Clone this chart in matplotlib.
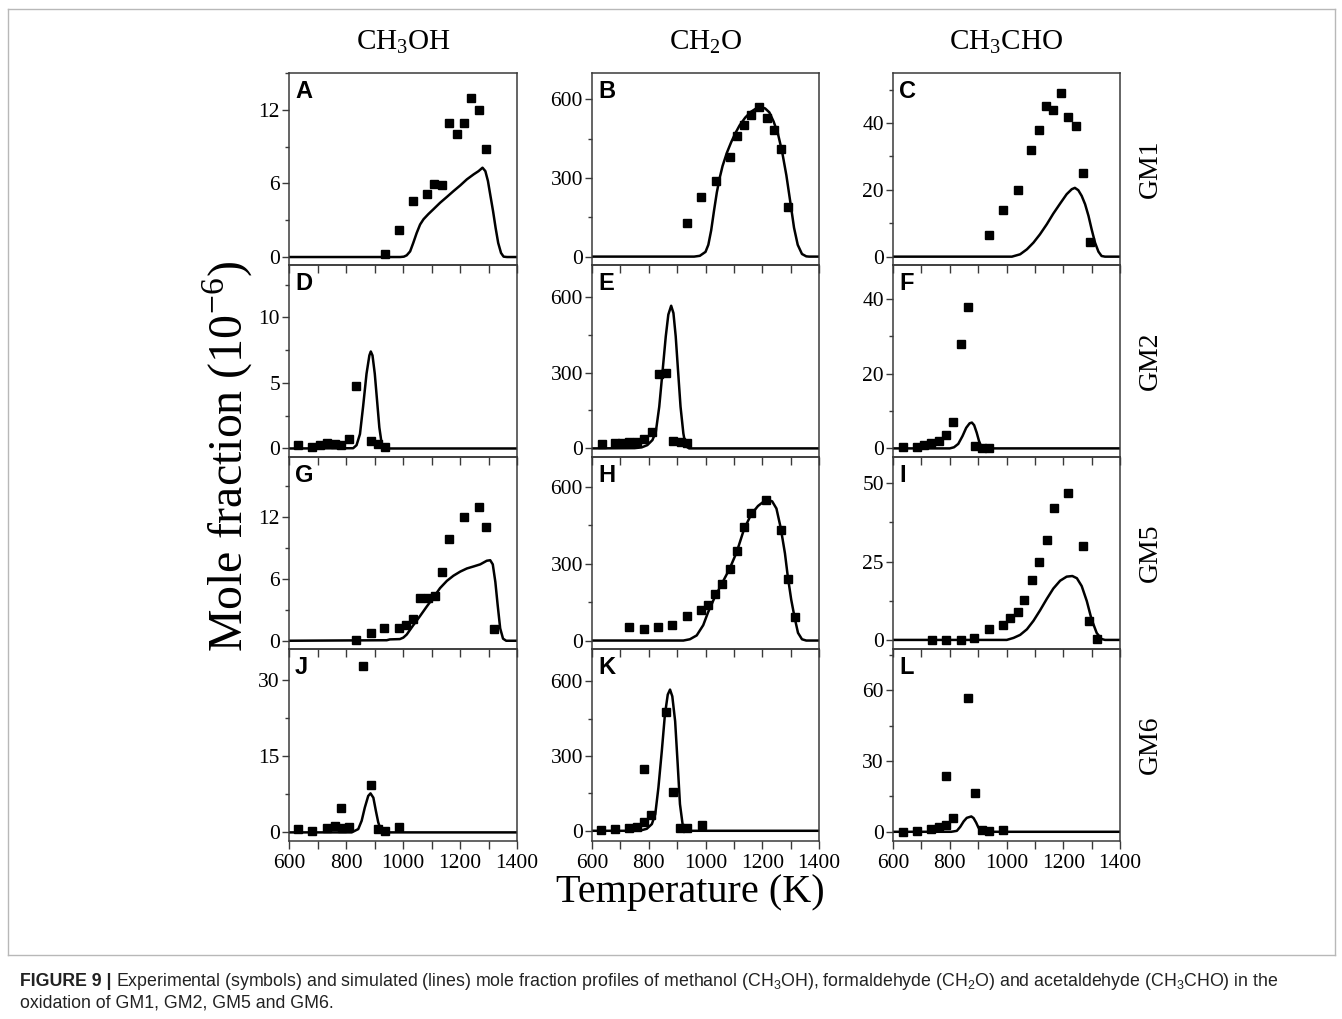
import matplotlib
matplotlib.use('Agg')
import matplotlib.pyplot as plt
from matplotlib.ticker import MultipleLocator, FixedLocator, NullFormatter
from matplotlib.lines import Line2D

plt.rcParams['font.family'] = ['Liberation Serif', 'DejaVu Serif']
plt.rcParams['mathtext.fontset'] = 'custom'
plt.rcParams['mathtext.rm'] = 'Liberation Serif'

# ---------------- data ----------------
col_titles = [r'CH$_\mathregular{3}$OH', r'CH$_\mathregular{2}$O', r'CH$_\mathregular{3}$CHO']
row_labels = ['GM1', 'GM2', 'GM5', 'GM6']
panel_letters = ['A', 'B', 'C', 'D', 'E', 'F', 'G', 'H', 'I', 'J', 'K', 'L']
x_ticks = [600, 800, 1000, 1200, 1400]

# GM1
a_exp_T = [937, 986, 1034, 1084, 1110, 1137, 1162, 1189, 1215, 1239, 1265, 1292]
a_exp_y = [0.27, 2.24, 4.55, 5.15, 5.97, 5.86, 10.96, 10.0, 10.96, 12.95, 11.97, 8.78]
a_sim_T = [600, 990, 1003, 1013, 1025, 1036, 1048, 1060, 1072, 1089, 1107, 1130, 1154, 1177, 1201,
           1224, 1248, 1265, 1279, 1289, 1298, 1306, 1316, 1325, 1334, 1344, 1353, 1365, 1400]
a_sim_y = [0, 0, 0.03, 0.14, 0.46, 1.15, 1.96, 2.65, 3.08, 3.5, 3.9, 4.42, 4.9, 5.37, 5.84,
           6.33, 6.74, 7.0, 7.28, 7.0, 6.2, 5.1, 3.74, 2.37, 1.15, 0.33, 0.03, 0, 0]

b_exp_T = [935, 985, 1036, 1085, 1111, 1135, 1161, 1188, 1215, 1240, 1265, 1289]
b_exp_y = [129, 228, 290, 380, 460, 503, 541, 571, 530, 481, 411, 191]
b_sim_T = [600, 960, 980, 1000, 1010, 1020, 1030, 1040, 1050, 1060, 1075, 1090, 1105, 1120, 1140,
           1160, 1180, 1195, 1210, 1225, 1240, 1255, 1270, 1285, 1300, 1312, 1325, 1340, 1355,
           1365, 1400]
b_sim_y = [0, 0, 3, 18, 45, 100, 175, 245, 300, 345, 395, 435, 470, 500, 530,
           552, 566, 570, 565, 550, 515, 470, 400, 310, 200, 110, 45, 10, 1,
           0, 0]

c_exp_T = [940, 988, 1039, 1088, 1115, 1140, 1165, 1191, 1218, 1244, 1271, 1294]
c_exp_y = [6.5, 13.9, 19.95, 31.9, 37.9, 45.0, 44.0, 49.0, 41.9, 39.0, 25.1, 4.5]
c_sim_T = [600, 1019, 1048, 1072, 1095, 1118, 1142, 1165, 1189, 1212, 1230, 1241, 1253, 1265,
           1277, 1289, 1300, 1312, 1324, 1335, 1347, 1400]
c_sim_y = [0, 0, 0.7, 2.2, 4.2, 6.7, 9.7, 12.9, 15.9, 18.7, 20.2, 20.6, 19.9, 18.2,
           15.7, 12.2, 8.2, 4.2, 1.5, 0.2, 0, 0]

# GM2
d_exp_T = [630, 682, 708, 734, 760, 784, 810, 835, 886, 911, 937]
d_exp_y = [0.3, 0.1, 0.23, 0.4, 0.33, 0.28, 0.71, 4.75, 0.56, 0.38, 0.13]
d_sim_T = [600, 825, 837, 849, 860, 872, 882, 887, 893, 901, 910, 917, 925, 933, 945, 1400]
d_sim_y = [0, 0.02, 0.25, 1.1, 3.2, 5.7, 7.1, 7.4, 7.1, 5.7, 3.4, 1.6, 0.4, 0.05, 0, 0]

e_exp_T = [635, 682, 706, 732, 757, 784, 811, 837, 862, 887, 912, 936]
e_exp_y = [17, 20, 21, 25, 26, 36, 63, 293, 297, 29, 26, 20]
e_sim_T = [600, 750, 775, 795, 813, 825, 837, 848, 860, 869, 879, 887, 895, 903, 912, 922, 930, 942, 1400]
e_sim_y = [0, 1, 4, 13, 33, 66, 165, 297, 443, 529, 564, 535, 443, 311, 165, 59, 9, 0, 0]

f_exp_T = [634, 684, 711, 735, 761, 787, 812, 838, 864, 889, 913, 939]
f_exp_y = [0.27, 0.44, 0.9, 1.4, 2.1, 3.6, 7.1, 28.0, 37.8, 0.6, 0.18, 0.18]
f_sim_T = [600, 800, 815, 830, 845, 858, 870, 878, 886, 895, 903, 911, 918, 1400]
f_sim_y = [0, 0, 0.3, 1.2, 3.3, 5.5, 6.7, 6.9, 6.2, 4.2, 2.0, 0.5, 0, 0]

# GM5
g_exp_T = [835, 886, 935, 986, 1009, 1035, 1061, 1086, 1111, 1136, 1162, 1213, 1265, 1291, 1318]
g_exp_y = [0.06, 0.71, 1.2, 1.2, 1.52, 2.1, 4.12, 4.18, 4.38, 6.65, 9.9, 11.97, 12.94, 11.0, 1.14]
g_sim_T = [600, 943, 954, 989, 1001, 1013, 1036, 1060, 1083, 1107, 1130, 1154, 1177, 1201, 1224,
           1248, 1271, 1294, 1306, 1315, 1324, 1332, 1341, 1351, 1362, 1400]
g_sim_y = [0, 0.05, 0.13, 0.16, 0.3, 0.6, 1.5, 2.4, 3.3, 4.2, 5.1, 5.8, 6.3, 6.7, 7.0,
           7.2, 7.4, 7.75, 7.8, 7.4, 5.7, 3.5, 1.2, 0.2, 0, 0]

h_exp_T = [732, 783, 833, 883, 934, 984, 1009, 1033, 1059, 1085, 1110, 1136, 1161, 1214, 1265, 1290, 1314]
h_exp_y = [54, 46, 51, 59, 96, 119, 140, 181, 220, 280, 351, 443, 499, 550, 431, 241, 92]
h_sim_T = [600, 922, 945, 969, 992, 1009, 1033, 1059, 1085, 1110, 1136, 1161, 1185, 1205, 1221,
           1235, 1250, 1265, 1280, 1290, 1302, 1314, 1326, 1340, 1355, 1400]
h_sim_y = [0, 0, 5, 20, 60, 110, 170, 225, 280, 345, 435, 492, 525, 542, 548,
           543, 515, 440, 340, 250, 160, 90, 30, 5, 0, 0]

i_exp_T = [737, 787, 838, 887, 939, 988, 1013, 1039, 1062, 1089, 1115, 1141, 1167, 1218, 1270, 1292, 1319]
i_exp_y = [0, 0, 0, 0.5, 3.4, 4.85, 7.0, 8.8, 12.8, 19.0, 25.0, 32.0, 42.0, 46.9, 30.0, 5.9, 0.2]
i_sim_T = [600, 1001, 1025, 1048, 1072, 1095, 1118, 1142, 1165, 1189, 1212, 1232, 1248, 1265,
           1283, 1300, 1318, 1335, 1347, 1400]
i_sim_y = [0, 0, 0.65, 1.6, 3.4, 6.1, 9.4, 13.1, 16.4, 18.9, 20.2, 20.4, 19.7, 17.2,
           12.4, 6.5, 2.2, 0.3, 0, 0]

# GM6
j_exp_T = [632, 682, 734, 760, 786, 781, 810, 860, 886, 911, 937, 987]
j_exp_y = [0.65, 0.33, 0.78, 1.17, 0.8, 4.9, 1.04, 32.9, 9.26, 0.65, 0.33, 1.04]
j_sim_T = [600, 820, 843, 855, 866, 878, 886, 896, 905, 913, 921, 931, 945, 1400]
j_sim_y = [0, 0, 0.65, 2.3, 4.9, 7.2, 7.7, 6.85, 4.2, 2.0, 0.65, 0.13, 0, 0]

k_exp_T = [632, 682, 732, 758, 783, 783, 808, 860, 885, 910, 935, 987]
k_exp_y = [4, 7, 12, 15, 36, 247, 63, 477, 156, 12, 11, 25]
k_sim_T = [600, 750, 770, 793, 811, 823, 834, 846, 857, 867, 875, 883, 893, 902, 910, 920, 929, 945, 1400]
k_sim_y = [0, 0, 1, 8, 27, 67, 173, 320, 467, 547, 567, 540, 440, 267, 107, 20, 3, 0, 0]

l_exp_T = [635, 684, 735, 761, 787, 787, 812, 864, 889, 913, 939, 988]
l_exp_y = [0, 0.3, 1.1, 2.0, 2.8, 23.7, 5.9, 56.5, 16.6, 0.56, 0.3, 0.56]
l_sim_T = [600, 805, 813, 825, 837, 849, 860, 876, 884, 893, 901, 910, 919, 1400]
l_sim_y = [0, 0, 0.15, 0.4, 2.1, 4.4, 5.9, 6.5, 5.8, 3.9, 1.8, 0.56, 0, 0]

y_limits = [(-0.65, 15), (-32, 700), (-2.5, 55),
            (-0.65, 14), (-34, 725), (-2.3, 49),
            (-0.8, 17.8), (-33, 716), (-2.9, 58.4),
            (-1.7, 36.2), (-41, 730), (-3.9, 77.4)]
y_major = [6, 300, 20, 5, 300, 20, 6, 300, 25, 15, 300, 30]

exp_sets = [(a_exp_T, a_exp_y), (b_exp_T, b_exp_y), (c_exp_T, c_exp_y),
            (d_exp_T, d_exp_y), (e_exp_T, e_exp_y), (f_exp_T, f_exp_y),
            (g_exp_T, g_exp_y), (h_exp_T, h_exp_y), (i_exp_T, i_exp_y),
            (j_exp_T, j_exp_y), (k_exp_T, k_exp_y), (l_exp_T, l_exp_y)]
sim_sets = [(a_sim_T, a_sim_y), (b_sim_T, b_sim_y), (c_sim_T, c_sim_y),
            (d_sim_T, d_sim_y), (e_sim_T, e_sim_y), (f_sim_T, f_sim_y),
            (g_sim_T, g_sim_y), (h_sim_T, h_sim_y), (i_sim_T, i_sim_y),
            (j_sim_T, j_sim_y), (k_sim_T, k_sim_y), (l_sim_T, l_sim_y)]

# ---------------- layout ----------------
W, H = 1342, 1019
fig = plt.figure(figsize=(W / 100, H / 100), dpi=100)

col_left = [289, 592, 893]
col_width = [228, 227, 227]
row_top = [73, 265, 457, 649]
row_h = 192
spine_col = '#3a3a3a'
tick_fs = 15.5

def fx(px):
    return px / W

def fy(py):
    return 1 - py / H

for idx in range(12):
    r, c = divmod(idx, 3)
    left = col_left[c]
    top = row_top[r]
    ax = fig.add_axes([fx(left), fy(top + row_h), col_width[c] / W, row_h / H])
    ax.patch.set_facecolor('none')
    T_sim, y_sim = sim_sets[idx]
    T_exp, y_exp = exp_sets[idx]
    ax.plot(T_sim, y_sim, color='black', lw=1.8, solid_joinstyle='round', zorder=2)
    ax.plot(T_exp, y_exp, ls='none', marker='s', ms=6.3, color='black', mec='black', zorder=3)
    ax.set_xlim(600, 1400)
    ax.set_ylim(*y_limits[idx])
    ax.xaxis.set_major_locator(FixedLocator(x_ticks))
    ax.xaxis.set_minor_locator(FixedLocator([700, 900, 1100, 1300]))
    ax.yaxis.set_major_locator(MultipleLocator(y_major[idx]))
    ax.yaxis.set_minor_locator(MultipleLocator(y_major[idx] / 2))
    ax.tick_params(axis='x', which='both', direction='out', length=6, width=1.0,
                   color=spine_col, labelsize=tick_fs, pad=3.5, top=False)
    ax.tick_params(axis='y', which='major', direction='out', length=5, width=1.0,
                   color=spine_col, labelsize=tick_fs, pad=1.5, right=False)
    ax.tick_params(axis='y', which='minor', direction='out', length=3, width=1.0,
                   color=spine_col, right=False)
    if r < 3:
        ax.xaxis.set_major_formatter(NullFormatter())
    for s in ax.spines.values():
        s.set_color(spine_col)
        s.set_linewidth(1.1)
    ax.text(6 / col_width[c], 1 - 7 / row_h, panel_letters[idx], transform=ax.transAxes,
            ha='left', va='top', fontsize=17, fontweight='bold',
            family=['Liberation Sans', 'DejaVu Sans'])

# column titles
for c in range(3):
    fig.text(fx(col_left[c] + col_width[c] / 2), fy(42), col_titles[c],
             ha='center', va='center', fontsize=21)

# row labels
for r in range(4):
    fig.text(fx(1150), fy(row_top[r] + row_h / 2), row_labels[r], rotation=90,
             ha='center', va='center', fontsize=20)

# axis labels
fig.text(fx(228), fy(457), r'Mole fraction (10$^{\mathregular{-6}}$)', rotation=90,
         ha='center', va='center', fontsize=34.5)
fig.text(fx(690), fy(902), 'Temperature (K)', ha='center', va='baseline', fontsize=29)

# frame around figure area
frame_col = '#b8b8b8'
fig.add_artist(Line2D([fx(8), fx(1335)], [fy(9), fy(9)], color=frame_col, lw=1))
fig.add_artist(Line2D([fx(8), fx(8)], [fy(9), fy(955)], color=frame_col, lw=1))
fig.add_artist(Line2D([fx(1335), fx(1335)], [fy(9), fy(955)], color=frame_col, lw=1))
fig.add_artist(Line2D([fx(8), fx(1335)], [fy(955), fy(955)], color=frame_col, lw=1))

# caption
cap_font = ['Liberation Sans', 'DejaVu Sans']
cap_size = 12.8
t1 = fig.text(fx(20), fy(981), 'FIGURE 9 |', family=cap_font, fontweight='bold',
              fontsize=cap_size, va='center', ha='left', color='#222222')
fig.canvas.draw()
bb = t1.get_window_extent()
cap1 = (r'Experimental (symbols) and simulated (lines) mole fraction profiles of methanol '
        r'(CH$_\mathregular{3}$OH), formaldehyde (CH$_\mathregular{2}$O) and acetaldehyde '
        r'(CH$_\mathregular{3}$CHO) in the')
fig.text((bb.x1 + 5) / W, fy(981), cap1, family=cap_font, fontsize=cap_size,
         va='center', ha='left', color='#222222')
fig.text(fx(20), fy(1003), 'oxidation of GM1, GM2, GM5 and GM6.', family=cap_font,
         fontsize=cap_size, va='center', ha='left', color='#222222')

fig.savefig('out.png', dpi=100)
